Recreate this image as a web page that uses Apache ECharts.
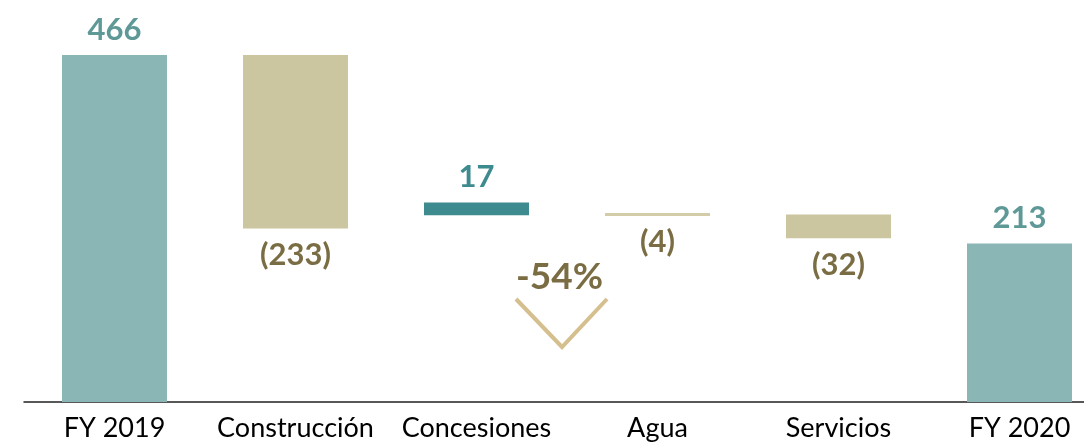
<!DOCTYPE html>
<html>
<head>
<meta charset="utf-8">
<script src="https://cdn.jsdelivr.net/npm/echarts@6/dist/echarts.min.js"></script>
<style>
  html, body { margin: 0; padding: 0; background: #fff; }
  #chart { width: 1084px; height: 446px; }
</style>
</head>
<body>
<div id="chart"></div>
<script>
// waterfall data
const categories = ['FY 2019', 'Construcción', 'Concesiones', 'Agua', 'Servicios', 'FY 2020'];
const values = [466, -233, 17, -4, -32, 213];
// where each floating bar starts (as drawn in the source)
const bases = [0, 233, 251, 250, 220, 0];
const changeLabel = '-54%';

const barColors = ['#8AB6B5', '#CBC5A0', '#3D8A8F', '#D3CCA8', '#CBC5A0', '#8AB6B5'];
const labelColors = ['#5E9897', '#7B6D43', '#3D8A8F', '#7B6D43', '#7B6D43', '#5E9897'];

const fmt = v => v < 0 ? '(' + Math.abs(v) + ')' : String(v);

const chart = echarts.init(document.getElementById('chart'));

const option = {
  animation: false,
  backgroundColor: '#fff',
  grid: { left: 24, width: 1086, top: 0, bottom: 44, outerBoundsMode: 'none', containLabel: false },
  xAxis: {
    type: 'category',
    data: categories,
    axisTick: { show: false },
    axisLine: { lineStyle: { color: '#222', width: 1.5 } },
    axisLabel: { color: '#000', fontSize: 27, fontFamily: 'Lato', margin: 13, interval: 0, hideOverlap: false }
  },
  yAxis: { type: 'value', min: 0, max: 540, show: false, splitLine: { show: false } },
  series: [
    {
      type: 'bar',
      stack: 'w',
      silent: true,
      itemStyle: { color: 'transparent' },
      data: bases
    },
    {
      type: 'bar',
      stack: 'w',
      barWidth: 105,
      data: values.map((v, i) => ({
        value: Math.abs(v),
        itemStyle: { color: barColors[i] },
        label: {
          show: true,
          position: v < 0 ? 'bottom' : 'top',
          distance: v < 0 ? 11 : 10,
          formatter: fmt(v),
          color: labelColors[i],
          fontSize: 31,
          fontWeight: 'bold',
          fontFamily: 'Lato'
        }
      }))
    }
  ],
  graphic: [
    {
      type: 'text',
      left: 516,
      top: 259,
      style: { text: changeLabel, fill: '#7B6D43', fontSize: 37, fontWeight: 'bold', fontFamily: 'Lato' }
    },
    {
      type: 'polyline',
      shape: { points: [[516, 299], [562, 347], [607, 299]] },
      style: { stroke: '#D6BF8E', lineWidth: 4, fill: null }
    }
  ]
};

chart.setOption(option);
</script>
</body>
</html>
